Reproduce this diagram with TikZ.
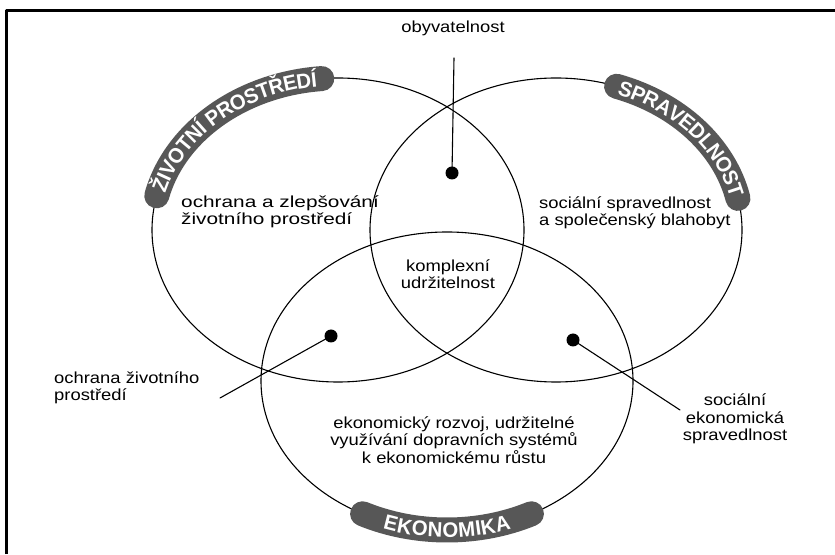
\documentclass[tikz,border=0pt]{standalone}
\usepackage{fontspec}
\setmainfont{Liberation Sans}[FakeStretch=1.15]
\newfontfamily\bandfam{Liberation Sans}[FakeStretch=0.97]
\usetikzlibrary{decorations.text}
\newcommand\bandfont{\bandfam\fontsize{21}{21}\selectfont\bfseries}
\begin{document}
\begin{tikzpicture}[x=1pt, y=1pt, line join=round, line cap=round,
    ring/.style={line width=1.1pt},
    dot/.style={circle, fill=black, inner sep=0pt, minimum size=13pt},
    lbl/.style={font=\fontsize{16}{17.5}\selectfont, inner sep=0pt},
    band/.style={line width=25pt, color=black!66},
    bandtext/.style={decorate, decoration={text along path, text color=white, text align=center, raise=-7.5pt, text={|\bandfont|#1}}}]
    \useasboundingbox (0,0) rectangle (835,554);
    \draw[line width=3pt, line cap=butt] (6.5,0) -- (6.5,543) -- (835,543);
    \draw[ring] (338,324) ellipse [x radius=186pt, y radius=152pt];
    \draw[ring] (556,324) ellipse [x radius=186pt, y radius=152pt];
    \draw[ring] (447,173) ellipse [x radius=186pt, y radius=149pt];
    \draw[band] (338,324) ++(167:186pt and 152pt) arc[start angle=167, end angle=95, x radius=186pt, y radius=152pt];
    \path[bandtext={ŽIVOTNÍ PROSTŘEDÍ}] (338,324) ++(167:186pt and 152pt) arc[start angle=167, end angle=95, x radius=186pt, y radius=152pt];
    \draw[band] (556,324) ++(71:186pt and 152pt) arc[start angle=71, end angle=12, x radius=186pt, y radius=152pt];
    \path[bandtext={SPRAVEDLNOST}] (556,324) ++(71:186pt and 152pt) arc[start angle=71, end angle=12, x radius=186pt, y radius=152pt];
    \draw[band] (447,173) ++(243:186pt and 149pt) arc[start angle=243, end angle=297, x radius=186pt, y radius=149pt];
    \path[bandtext={EKONOMIKA}] (447,173) ++(243:186pt and 149pt) arc[start angle=243, end angle=297, x radius=186pt, y radius=149pt];
    \node[lbl] (obyv) at (453,526) {obyvatelnost};
    \node[lbl, xscale=1.13, anchor=west, align=left] (zivot) at (181,342) {ochrana a zlepšování\\životního prostředí};
    \node[lbl, anchor=west, align=left] (sprav) at (539,341) {sociální spravedlnost\\a společenský blahobyt};
    \node[lbl, align=center] (kompl) at (448,280) {komplexní\\udržitelnost};
    \node[lbl, align=center] (ekon) at (454,114) {ekonomický rozvoj, udržitelné\\využívání dopravních systémů\\k ekonomickému růstu};
    \node[lbl, anchor=west, align=left] (ochr) at (54,166) {ochrana životního\\prostředí};
    \node[lbl, align=center] (soc) at (735,135) {sociální\\ekonomická\\spravedlnost};
    \node[dot] (dtop) at (452,381) {};
    \node[dot] (dleft) at (331,218) {};
    \node[dot] (dright) at (573,214) {};
    \coordinate (otop) at (454,496);
    \coordinate (lend) at (220,156);
    \coordinate (rend) at (680,144);
    \draw[ring] (otop) -- (dtop.center);
    \draw[ring] (dleft.center) -- (lend);
    \draw[ring] (dright.center) -- (rend);
\end{tikzpicture}
\end{document}
